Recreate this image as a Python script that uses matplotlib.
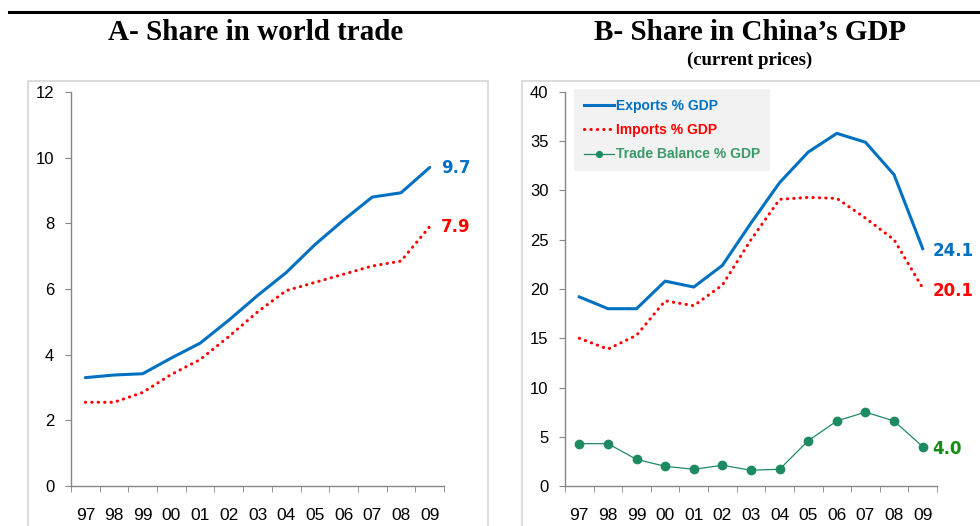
import numpy as np
import matplotlib
matplotlib.use('Agg')
import matplotlib.pyplot as plt
from matplotlib.patches import Rectangle
from matplotlib.lines import Line2D

years = ['97', '98', '99', '00', '01', '02', '03', '04', '05', '06', '07', '08', '09']

# panel A: share in world trade (%)
world_exports = [3.3, 3.38, 3.42, 3.9, 4.35, 5.05, 5.8, 6.5, 7.35, 8.1, 8.8, 8.93, 9.7]
world_imports = [2.55, 2.55, 2.85, 3.4, 3.85, 4.55, 5.3, 5.95, 6.2, 6.45, 6.7, 6.85, 7.9]

# panel B: share in China's GDP (%)
gdp_exports = [19.2, 18.0, 18.0, 20.8, 20.2, 22.4, 26.7, 30.8, 33.9, 35.8, 34.9, 31.6, 24.1]
gdp_imports = [15.0, 13.9, 15.3, 18.8, 18.3, 20.4, 25.0, 29.1, 29.3, 29.2, 27.2, 25.0, 20.1]
gdp_balance = [4.3, 4.3, 2.7, 2.0, 1.7, 2.1, 1.6, 1.7, 4.6, 6.6, 7.5, 6.6, 4.0]

BLUE = '#0070c0'
RED = '#ff0000'
GREEN = '#1e8a62'
LBL_GREEN = '#148c14'
AXIS = '#868686'
TICK_FONT = 'Liberation Sans'
SERIF = 'Liberation Serif'
DOTS = (0, (0.1, 2.0))

fig = plt.figure(figsize=(9.8, 5.26), dpi=100)

# panel frames and top rule
fig.add_artist(Rectangle((28 / 980, -0.02), (488 - 28) / 980, 1 - 81 / 526 + 0.02,
                         transform=fig.transFigure, fill=False, edgecolor='#d6d6d6', lw=1.2))
fig.add_artist(Rectangle((522 / 980, -0.02), 0.5, 1 - 81 / 526 + 0.02,
                         transform=fig.transFigure, fill=False, edgecolor='#d6d6d6', lw=1.2))
fig.add_artist(Line2D([9 / 980, 1.0], [1 - 12 / 526] * 2, transform=fig.transFigure,
                      color='black', lw=2.2))

ax_a = fig.add_axes([71 / 980, 1 - 486 / 526, 373 / 980, 394 / 526])
ax_b = fig.add_axes([565 / 980, 1 - 486 / 526, 372 / 980, 394 / 526])

x = np.arange(len(years))


def style_axis(ax, ymax, ystep):
    ax.set_xlim(-0.5, len(years) - 0.5)
    ax.set_ylim(0, ymax)
    ax.set_yticks(np.arange(0, ymax + 0.1, ystep))
    ax.set_xticks(x)
    ax.set_xticklabels(years)
    ax.set_xticks(np.arange(-0.5, len(years)), minor=True)
    for s in ['top', 'right']:
        ax.spines[s].set_visible(False)
    for s in ['left', 'bottom']:
        ax.spines[s].set_color(AXIS)
        ax.spines[s].set_linewidth(1)
    ax.tick_params(axis='x', which='major', length=0, pad=16, labelsize=12.5)
    ax.tick_params(axis='x', which='minor', length=4, color=AXIS, direction='out')
    ax.tick_params(axis='y', length=4, color=AXIS, pad=8, labelsize=12)
    for lbl in ax.get_xticklabels() + ax.get_yticklabels():
        lbl.set_fontfamily(TICK_FONT)


# panel A
ax_a.plot(x, world_exports, color=BLUE, lw=2.2, solid_capstyle='round')
ax_a.plot(x, world_imports, color=RED, lw=2.2, linestyle=DOTS, dash_capstyle='round')
style_axis(ax_a, 12, 2)
ax_a.annotate(f'{world_exports[-1]:.1f}', (x[-1], world_exports[-1]), xytext=(8, 0),
              textcoords='offset points', color=BLUE, fontsize=12, fontweight='bold',
              va='center', family='DejaVu Sans')
ax_a.annotate(f'{world_imports[-1]:.1f}', (x[-1], world_imports[-1]), xytext=(8, 0),
              textcoords='offset points', color=RED, fontsize=12, fontweight='bold',
              va='center', family='DejaVu Sans')

# panel B
ax_b.plot(x, gdp_exports, color=BLUE, lw=2.2, label='Exports % GDP')
ax_b.plot(x, gdp_imports, color=RED, lw=2.2, linestyle=DOTS, dash_capstyle='round',
          label='Imports % GDP')
ax_b.plot(x, gdp_balance, color=GREEN, lw=0.9, marker='o', markersize=6,
          label='Trade Balance % GDP')
style_axis(ax_b, 40, 5)
for vals, col in [(gdp_exports, BLUE), (gdp_imports, RED), (gdp_balance, LBL_GREEN)]:
    ax_b.annotate(f'{vals[-1]:.1f}', (x[-1], vals[-1]), xytext=(7, -2),
                  textcoords='offset points', color=col, fontsize=12, fontweight='bold',
                  va='center', family='DejaVu Sans')

leg = ax_b.legend(loc='upper left', bbox_to_anchor=(0.024, 1.008), borderaxespad=0,
                  frameon=True, fancybox=False, markerscale=0.7,
                  facecolor='#f2f2f2', edgecolor='none', framealpha=1,
                  labelcolor=[BLUE, RED, '#3a9a6a'], handlelength=2.2, handletextpad=0.1,
                  borderpad=0.7, labelspacing=0.75,
                  prop={'family': TICK_FONT, 'weight': 'bold', 'size': 10})

# titles
fig.text(256 / 980, 1 - 32 / 526, 'A- Share in world trade', ha='center', va='center',
         family=SERIF, fontweight='bold', fontsize=21)
fig.text(750 / 980, 1 - 32 / 526, 'B- Share in China\u2019s GDP', ha='center', va='center',
         family=SERIF, fontweight='bold', fontsize=21)
fig.text(750 / 980, 1 - 60 / 526, '(current prices)', ha='center', va='center',
         family=SERIF, fontweight='bold', fontsize=13.5)

fig.savefig('out.png', dpi=100)
